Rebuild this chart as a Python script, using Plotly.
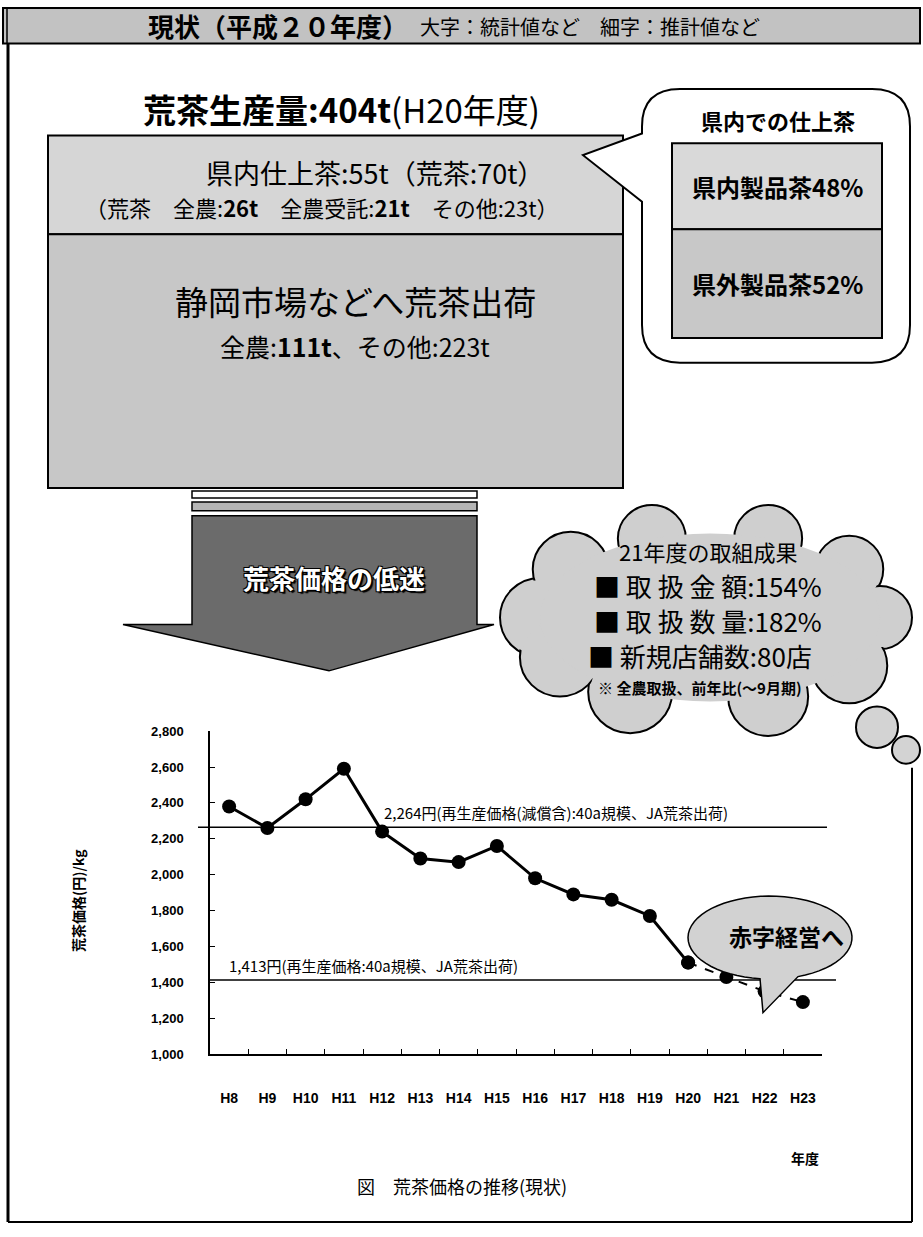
import plotly.graph_objects as go
import math

W, H = 923, 1237

# ---------------- data ----------------
years = ["H8", "H9", "H10", "H11", "H12", "H13", "H14", "H15",
         "H16", "H17", "H18", "H19", "H20", "H21", "H22", "H23"]
price = [2380, 2260, 2420, 2590, 2240, 2090, 2070, 2160,
         1980, 1890, 1860, 1770, 1510, 1430, 1350, 1290]
solid_end = 13  # H8..H20 solid, H20..H23 dashed (estimates)
ref_values = [2264, 1413]
ref_labels = ["2,264円(再生産価格(減償含):40a規模、JA荒茶出荷)",
              "1,413円(再生産価格:40a規模、JA荒茶出荷)"]
y_ticks = [1000, 1200, 1400, 1600, 1800, 2000, 2200, 2400, 2600, 2800]

header_main = "現状（平成２０年度）"
header_sub = "大字：統計値など　細字：推計値など"
prod_title = "荒茶生産量:404t<span style='font-weight:normal'>(H20年度)</span>"
box_upper = ["県内仕上茶:55t（荒茶:70t）",
             "（荒茶　全農:<b>26t</b>　全農受託:<b>21t</b>　その他:23t）"]
box_lower = ["静岡市場などへ荒茶出荷", "全農:<b>111t</b>、その他:223t"]
bubble_title = "県内での仕上茶"
bubble_items = ["県内製品茶48%", "県外製品茶52%"]
arrow_text = "荒茶価格の低迷"
cloud_lines = ["21年度の取組成果", "■ 取 扱 金 額:154%", "■ 取 扱 数 量:182%",
               "■ 新規店舗数:80店", "※ 全農取扱、前年比(～9月期)"]
callout_text = "赤字経営へ"
caption = "図　荒茶価格の推移(現状)"

FONT = "Noto Sans CJK JP, Noto Sans, sans-serif"
NARROW = "Liberation Sans Narrow, Liberation Sans, Arial, sans-serif"


def X(x):
    return x / W


def Y(y):
    return 1 - y / H


def P(x, y):
    return f"{X(x):.5f},{Y(y):.5f}"


def poly(points):
    return "M " + " L ".join(P(x, y) for x, y in points) + " Z"


shapes = []
annots = []


def rect(x0, y0, x1, y1, fill, lw=2, color="black", layer="above"):
    shapes.append(dict(type="rect", xref="paper", yref="paper",
                       x0=X(x0), x1=X(x1), y0=Y(y1), y1=Y(y0),
                       fillcolor=fill, line=dict(color=color, width=lw), layer=layer))


def line(x0, y0, x1, y1, lw=2, color="black", dash=None):
    d = dict(color=color, width=lw)
    if dash:
        d["dash"] = dash
    shapes.append(dict(type="line", xref="paper", yref="paper",
                       x0=X(x0), x1=X(x1), y0=Y(y0), y1=Y(y1), line=d, layer="above"))


def circle(cx, cy, r, fill, lw=2):
    shapes.append(dict(type="circle", xref="paper", yref="paper",
                       x0=X(cx - r), x1=X(cx + r), y0=Y(cy + r), y1=Y(cy - r),
                       fillcolor=fill, line=dict(color="black", width=lw) if lw else dict(width=0),
                       layer="above"))


def text(x, y, s, size, bold=False, color="black", xanchor="center", font=FONT, shadow=None, angle=0):
    f = dict(family=font, size=size, color=color, weight="bold" if bold else "normal")
    if shadow:
        f["shadow"] = shadow
    annots.append(dict(xref="paper", yref="paper", x=X(x), y=Y(y), text=s,
                       showarrow=False, xanchor=xanchor, yanchor="middle",
                       font=f, textangle=angle))


# ---------------- header ----------------
rect(3, 1, 920, 37, "#c2c2c2", lw=2)
line(7, 1, 7, 37, lw=1.5)
text(146, 19, header_main, 26, bold=True, xanchor="left")
text(418, 20, header_sub, 20, xanchor="left")

# ---------------- production box ----------------
text(341, 103, prod_title, 33, bold=True)
rect(48, 130, 623, 230, "#d6d6d6")
rect(48, 230, 623, 487, "#c7c7c7")
text(375, 168, box_upper[0], 27)
text(322, 202, box_upper[1], 22)
text(355, 298, box_lower[0], 33)
text(355, 343, box_lower[1], 25)

# strips + arrow
rect(192, 490, 477, 497, "white", lw=1.5)
rect(192, 501, 477, 510, "#b5b5b5", lw=1.5)
shapes.append(dict(type="path", xref="paper", yref="paper",
                   path=poly([(192, 515), (477, 515), (477, 625), (494, 625),
                              (329, 672), (123, 625), (192, 625)]),
                   fillcolor="#6b6b6b", line=dict(color="black", width=1.5), layer="above"))
text(334, 578, arrow_text, 26, bold=True, color="white",
     shadow="1px 1px 0 #000, -1px -1px 0 #000, 1px -1px 0 #000, -1px 1px 0 #000, 2px 2px 1px #000")

# ---------------- speech bubble ----------------
bx0, by0, bx1, by1, r = 642, 83, 910, 360, 38
bpath = (f"M {P(bx0 + r, by0)} L {P(bx1 - r, by0)} Q {P(bx1, by0)} {P(bx1, by0 + r)} "
         f"L {P(bx1, by1 - r)} Q {P(bx1, by1)} {P(bx1 - r, by1)} "
         f"L {P(bx0 + r, by1)} Q {P(bx0, by1)} {P(bx0, by1 - r)} "
         f"L {P(bx0, 197)} L {P(583, 150)} L {P(bx0, 128)} L {P(bx0, by0 + r)} "
         f"Q {P(bx0, by0)} {P(bx0 + r, by0)} Z")
shapes.append(dict(type="path", xref="paper", yref="paper", path=bpath,
                   fillcolor="white", line=dict(color="black", width=2), layer="above"))
rect(672, 138, 882, 225, "#d9d9d9")
rect(672, 225, 882, 335, "#c8c8c8")
text(778, 114, bubble_title, 22, bold=True)
text(777, 182, bubble_items[0], 24, bold=True)
text(777, 280, bubble_items[1], 24, bold=True)

# ---------------- cloud ----------------
CF = "#cfcfcf"
ccx, ccy, crx, cry = 710, 618, 170, 85
bump_angles = [180, 215, 250, 290, 325, 0, 35, 70, 118, 152]
bump_r = [40, 38, 34, 34, 34, 32, 38, 40, 42, 40]
bumps = [(ccx + crx * math.cos(math.radians(a)), ccy + cry * math.sin(math.radians(a)), rr)
         for a, rr in zip(bump_angles, bump_r)]
for bx, by, rr in bumps:
    circle(bx, by, rr, CF, lw=2)
for bx, by, rr in bumps:
    circle(bx, by, rr - 2, CF, lw=0)
shapes.append(dict(type="circle", xref="paper", yref="paper",
                   x0=X(ccx - crx), x1=X(ccx + crx), y0=Y(ccy + cry), y1=Y(ccy - cry),
                   fillcolor=CF, line=dict(width=0), layer="above"))
circle(877, 729, 21, "#d3d3d3", lw=2)
circle(906, 752, 14, "#d3d3d3", lw=2)

text(708, 551, cloud_lines[0], 22)
text(708, 586, cloud_lines[1], 26)
text(708, 621, cloud_lines[2], 26)
text(700, 656, cloud_lines[3], 26)
text(700, 689, cloud_lines[4], 15, bold=True)

# ---------------- chart callout ----------------
cx, cy, rx, ry = 770, 942, 82, 42
pts = []
for k in range(0, 61):
    t = math.radians(97 + (360 - 27) * k / 60)
    pts.append((cx + rx * math.cos(t), cy + ry * math.sin(t)))
pts.append((763, 1018))
shapes.append(dict(type="path", xref="paper", yref="paper", path=poly(pts),
                   fillcolor="#d2d2d2", line=dict(color="black", width=1.5), layer="above"))
text(786, 940, callout_text, 23, bold=True)

# ---------------- reference lines ----------------
ref_x = [(198, 827), (210, 836)]
ref_lab_x = [382, 227]
for v, lab, (xa, xb), lx in zip(ref_values, ref_labels, ref_x, ref_lab_x):
    shapes.append(dict(type="line", xref="paper", yref="y", x0=X(xa), x1=X(xb), y0=v, y1=v,
                       line=dict(color="black", width=1.5), layer="below"))
    annots.append(dict(xref="paper", yref="y", x=X(lx), y=v, text=lab, showarrow=False,
                       xanchor="left", yanchor="bottom", yshift=2,
                       font=dict(family=FONT, size=15, color="black")))

# ---------------- other text ----------------
text(78, 905, "荒茶価格(円)/kg", 14, bold=True, angle=-90)
text(805, 1165, "年度", 14, bold=True)
text(462, 1193, caption, 18)

# frame
line(8, 37, 8, 1230, lw=3)
line(912, 770, 912, 1230, lw=2)
line(8, 1230, 912, 1230, lw=2)

# ---------------- traces ----------------
fig = go.Figure()
fig.add_trace(go.Scatter(x=years[:solid_end], y=price[:solid_end], mode="lines+markers",
                         line=dict(color="black", width=3),
                         marker=dict(size=14, color="black"), showlegend=False))
fig.add_trace(go.Scatter(x=years[solid_end - 1:], y=price[solid_end - 1:], mode="lines+markers",
                         line=dict(color="black", width=2, dash="dash"),
                         marker=dict(size=14, color="black"), showlegend=False))

fig.update_layout(
    width=W, height=H, margin=dict(l=0, r=0, t=0, b=0),
    paper_bgcolor="white", plot_bgcolor="rgba(0,0,0,0)",
    shapes=shapes, annotations=annots, showlegend=False,
    xaxis=dict(domain=[X(210), X(822)], type="category", categoryorder="array",
               categoryarray=years, range=[-0.5, len(years) - 0.5],
               showline=True, linecolor="black", linewidth=2, showgrid=False, zeroline=False,
               ticks="inside", tickson="boundaries", ticklen=5, tickcolor="black",
               ticklabelstandoff=30,
               tickfont=dict(family=NARROW, size=14, color="black", weight="bold")),
    yaxis=dict(domain=[Y(1060), Y(733)], range=[1000, 2800], tickvals=y_ticks,
               tickformat=",", showline=True, linecolor="black", linewidth=1.5,
               showgrid=False, zeroline=False, ticks="inside", ticklen=5, tickcolor="black",
               ticklabelstandoff=22,
               tickfont=dict(family=NARROW, size=13, color="black", weight="bold")),
)

fig.write_html("out.html")
